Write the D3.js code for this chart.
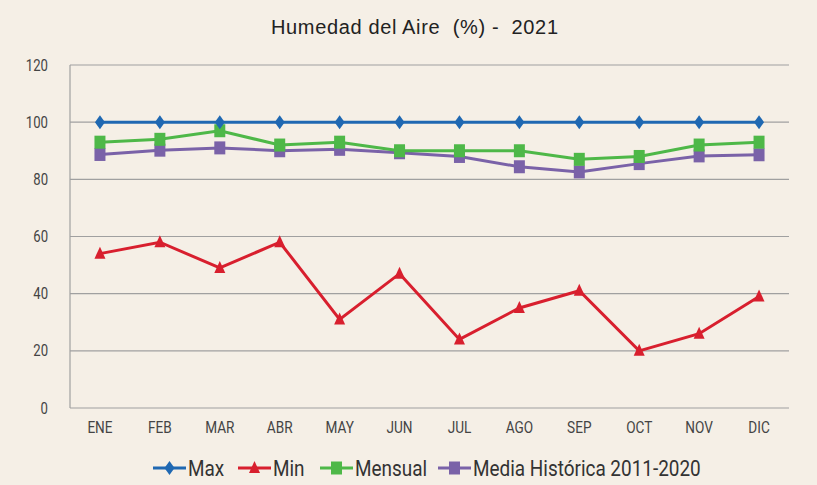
<!DOCTYPE html>
<html>
<head>
<meta charset="utf-8">
<script src="https://cdn.jsdelivr.net/npm/d3@7"></script>
<style>
  body { margin: 0; background: #f5efe6; }
  text { font-family: "Roboto", sans-serif; fill: #333; }
</style>
</head>
<body>
<div id="chart"></div>
<script>
const months = ["ENE", "FEB", "MAR", "ABR", "MAY", "JUN", "JUL", "AGO", "SEP", "OCT", "NOV", "DIC"];
const maxVals = [100, 100, 100, 100, 100, 100, 100, 100, 100, 100, 100, 100];
const minVals = [54, 58, 49, 58, 31, 47, 24, 35, 41, 20, 26, 39];
const mensualVals = [93, 94, 97, 92, 93, 90, 90, 90, 87, 88, 92, 93];
const historicaVals = [88.7, 90.2, 91, 90, 90.5, 89.3, 88, 84.4, 82.6, 85.5, 88.2, 88.6];
const yTicks = [0, 20, 40, 60, 80, 100, 120];

const series = [
  { name: "Max", values: maxVals, color: "#1f68b2", shape: "diamond" },
  { name: "Min", values: minVals, color: "#d81f2e", shape: "triangle" },
  { name: "Mensual", values: mensualVals, color: "#4eb848", shape: "square" },
  { name: "Media Histórica 2011-2020", values: historicaVals, color: "#7a62a8", shape: "square" }
];

const width = 817, height = 485;
const margin = { top: 65, right: 28, bottom: 77, left: 70 };

// squeeze text horizontally to mimic a condensed face
function condense(sel, k) {
  sel.each(function () {
    const len = this.getComputedTextLength();
    d3.select(this)
      .attr("textLength", len * k)
      .attr("lengthAdjust", "spacingAndGlyphs");
  });
}

const svg = d3.select("#chart").append("svg")
  .attr("width", width)
  .attr("height", height);

svg.append("rect").attr("width", width).attr("height", height).attr("fill", "#f5efe6");

const x = d3.scaleBand()
  .domain(months)
  .range([margin.left, width - margin.right]);

const y = d3.scaleLinear()
  .domain([0, 120])
  .range([height - margin.bottom, margin.top]);

// title
svg.append("text")
  .attr("x", 271)
  .attr("y", 34)
  .attr("textLength", 287)
  .attr("lengthAdjust", "spacing")
  .style("white-space", "pre")
  .style("font-family", "'Liberation Sans', Arial, sans-serif")
  .style("font-size", "20px")
  .style("fill", "#222")
  .text("Humedad del Aire  (%) -  2021");

// gridlines
svg.append("g")
  .selectAll("line")
  .data(yTicks)
  .join("line")
  .attr("x1", margin.left)
  .attr("x2", width - margin.right)
  .attr("y1", d => y(d))
  .attr("y2", d => y(d))
  .attr("stroke", "#a0a0a0")
  .attr("stroke-width", 1.2);

// y axis line
svg.append("line")
  .attr("x1", margin.left).attr("x2", margin.left)
  .attr("y1", y(120)).attr("y2", y(0))
  .attr("stroke", "#a0a0a0")
  .attr("stroke-width", 1.2);

const yAxis = svg.append("g")
  .attr("transform", `translate(${margin.left},0)`)
  .call(d3.axisLeft(y).tickValues(yTicks).tickSize(0).tickPadding(22));
yAxis.select(".domain").remove();
yAxis.selectAll("text").style("font-size", "16px").style("fill", "#444").style("font-family", null)
  .call(condense, 0.82);

const xAxis = svg.append("g")
  .attr("transform", `translate(0,${y(0)})`)
  .call(d3.axisBottom(x).tickSize(0).tickPadding(14));
xAxis.select(".domain").remove();
xAxis.selectAll("text").style("font-size", "16px").style("fill", "#444").style("font-family", null)
  .call(condense, 0.85);

const symbols = {
  diamond: "M0,-7L5,0L0,7L-5,0Z",
  triangle: "M0,-7L5.5,5L-5.5,5Z",
  square: "M-5.5,-6.5H5.5V6.5H-5.5Z"
};

const line = d3.line()
  .x((d, i) => x(months[i]) + x.bandwidth() / 2)
  .y(d => y(d));

// draw in reverse so Max is on top
series.slice().reverse().forEach(s => {
  svg.append("path")
    .datum(s.values)
    .attr("d", line)
    .attr("fill", "none")
    .attr("stroke", s.color)
    .attr("stroke-width", 3);
  svg.append("g")
    .selectAll("path")
    .data(s.values)
    .join("path")
    .attr("transform", (d, i) => `translate(${x(months[i]) + x.bandwidth() / 2},${y(d)})`)
    .attr("d", symbols[s.shape])
    .attr("fill", s.color);
});

// legend
const legend = svg.append("g").attr("transform", "translate(0,468)");
const lx = [153, 238, 320, 438];
series.forEach((s, i) => {
  const g = legend.append("g").attr("transform", `translate(${lx[i]},0)`);
  g.append("line")
    .attr("x1", 0).attr("x2", 33)
    .attr("stroke", s.color)
    .attr("stroke-width", 3);
  g.append("path")
    .attr("transform", "translate(16.5,0)")
    .attr("d", symbols[s.shape])
    .attr("fill", s.color);
  g.append("text")
    .attr("x", 35)
    .attr("y", 8)
    .style("font-size", "22px")
    .style("fill", "#333")
    .text(s.name)
    .call(condense, 0.86);
});
</script>
</body>
</html>
